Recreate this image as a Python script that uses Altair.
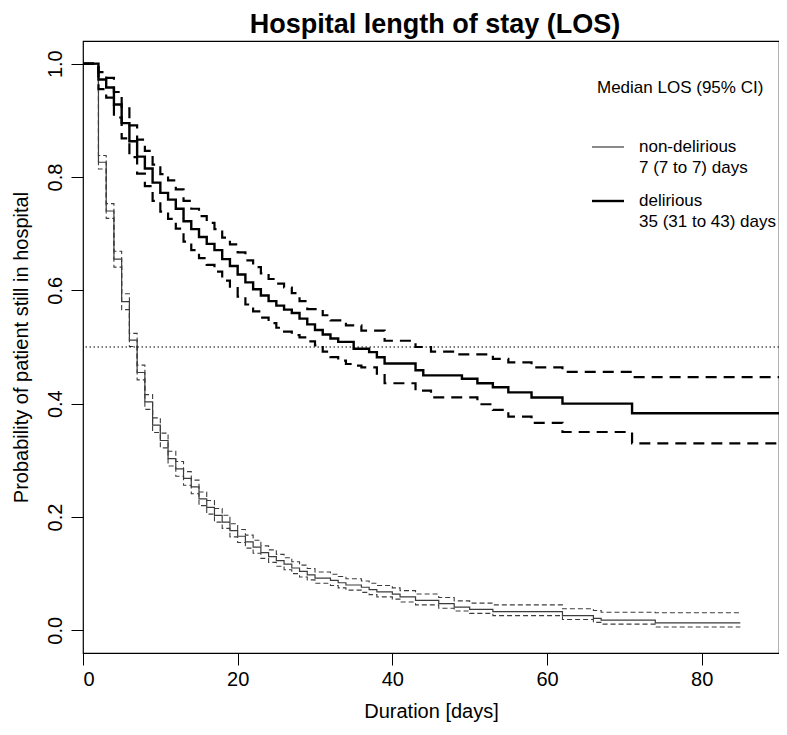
import altair as alt
import pandas as pd

# Kaplan-Meier steps: day of step and survival after it
nd_days = [0, 2, 3, 4, 5, 6, 7, 8, 9, 10, 11, 12, 13, 14, 15, 16, 17, 18, 19, 20,
           21, 22, 23, 24, 25, 26, 27, 28, 29, 30, 32, 33, 34, 36, 37, 38, 40, 41,
           43, 46, 48, 50, 53, 62, 66, 67, 74, 85]
nd_surv = [1.0, 0.826, 0.740, 0.655, 0.580, 0.512, 0.455, 0.403, 0.362, 0.335,
           0.303, 0.285, 0.268, 0.253, 0.232, 0.217, 0.203, 0.191, 0.176, 0.166,
           0.156, 0.147, 0.137, 0.130, 0.123, 0.117, 0.110, 0.104, 0.098, 0.092,
           0.088, 0.084, 0.080, 0.076, 0.072, 0.068, 0.064, 0.059, 0.053, 0.047,
           0.041, 0.037, 0.033, 0.026, 0.021, 0.018, 0.013, 0.013]
nd_upper = [1.0, 0.838, 0.753, 0.669, 0.594, 0.524, 0.468, 0.416, 0.375, 0.348,
            0.316, 0.298, 0.280, 0.265, 0.244, 0.229, 0.215, 0.203, 0.188, 0.178,
            0.168, 0.159, 0.149, 0.142, 0.134, 0.128, 0.121, 0.115, 0.109, 0.103,
            0.099, 0.095, 0.091, 0.087, 0.083, 0.079, 0.075, 0.070, 0.064, 0.058,
            0.052, 0.048, 0.045, 0.038, 0.035, 0.032, 0.031, 0.031]
nd_lower = [1.0, 0.814, 0.727, 0.641, 0.566, 0.501, 0.442, 0.390, 0.349, 0.322,
            0.290, 0.272, 0.256, 0.241, 0.220, 0.205, 0.191, 0.180, 0.165, 0.155,
            0.145, 0.136, 0.127, 0.120, 0.113, 0.107, 0.100, 0.094, 0.089, 0.083,
            0.079, 0.075, 0.071, 0.067, 0.063, 0.059, 0.055, 0.050, 0.045, 0.039,
            0.034, 0.030, 0.026, 0.019, 0.014, 0.011, 0.006, 0.006]

del_days = [0, 2, 3, 4, 5, 6, 7, 8, 9, 10, 11, 12, 13, 14, 15, 16, 17, 18, 19, 20,
            21, 22, 23, 24, 25, 26, 27, 28, 29, 30, 31, 32, 33, 34, 35, 36, 37, 38,
            39, 43, 44, 45, 48, 49, 51, 53, 55, 58, 62, 71, 90]
del_surv = [1.0, 0.972, 0.958, 0.928, 0.895, 0.863, 0.836, 0.815, 0.790, 0.772,
            0.760, 0.744, 0.722, 0.708, 0.694, 0.682, 0.671, 0.655, 0.643, 0.628,
            0.614, 0.602, 0.591, 0.581, 0.573, 0.566, 0.560, 0.550, 0.540, 0.530,
            0.522, 0.515, 0.509, 0.509, 0.497, 0.497, 0.491, 0.482, 0.471, 0.459,
            0.450, 0.450, 0.450, 0.444, 0.436, 0.429, 0.420, 0.411, 0.400, 0.383,
            0.383]
del_upper = [1.0, 0.985, 0.975, 0.950, 0.921, 0.891, 0.866, 0.846, 0.822, 0.805,
             0.794, 0.778, 0.758, 0.744, 0.731, 0.719, 0.708, 0.693, 0.681, 0.667,
             0.653, 0.641, 0.630, 0.620, 0.612, 0.605, 0.595, 0.581, 0.567, 0.567,
             0.556, 0.547, 0.547, 0.538, 0.538, 0.529, 0.529, 0.529, 0.511, 0.500,
             0.500, 0.492, 0.487, 0.487, 0.487, 0.479, 0.473, 0.464, 0.456, 0.447,
             0.447]
del_lower = [1.0, 0.955, 0.940, 0.905, 0.868, 0.835, 0.806, 0.784, 0.758, 0.739,
             0.726, 0.709, 0.686, 0.671, 0.657, 0.645, 0.633, 0.617, 0.604, 0.589,
             0.575, 0.563, 0.552, 0.542, 0.534, 0.527, 0.521, 0.517, 0.510, 0.503,
             0.492, 0.482, 0.476, 0.470, 0.467, 0.464, 0.464, 0.453, 0.436, 0.423,
             0.423, 0.411, 0.411, 0.411, 0.399, 0.389, 0.377, 0.366, 0.350, 0.330,
             0.330]

x_ticks = [0, 20, 40, 60, 80]
y_ticks = [0.0, 0.2, 0.4, 0.6, 0.8, 1.0]
median_level = 0.5

FONT = "Liberation Sans"
W, H = 696, 612

x_enc = alt.X(
    "day:Q",
    scale=alt.Scale(domain=[0, 90], nice=False, zero=False),
    axis=alt.Axis(values=x_ticks, title="Duration [days]", grid=False, domain=False,
                  tickSize=12, tickColor="black", labelPadding=4, format="d",
                  labelFont=FONT, labelFontSize=20, labelColor="black",
                  titleFont=FONT, titleFontSize=20, titleFontWeight="normal",
                  titleColor="black", titlePadding=12),
)
y_enc = alt.Y(
    "p:Q",
    scale=alt.Scale(domain=[-0.04, 1.04], nice=False, zero=False),
    axis=alt.Axis(values=y_ticks, title="Probability of patient still in hospital",
                  grid=False, domain=False, tickSize=12, tickColor="black",
                  labelPadding=10, labelAngle=-90, labelAlign="center",
                  labelBaseline="alphabetic", format=".1f",
                  labelFont=FONT, labelFontSize=20, labelColor="black",
                  titleFont=FONT, titleFontSize=20, titleFontWeight="normal",
                  titleColor="black", titlePadding=14),
)


def km_line(days, values, width, color, dash=None):
    style = dict(interpolate="step-after", color=color, strokeWidth=width, clip=True)
    if dash:
        style["strokeDash"] = dash
    df = pd.DataFrame({"day": days, "p": values})
    return alt.Chart(df).mark_line(**style).encode(x=x_enc, y=y_enc)


nd_col = "#3c3c3c"
layers = [
    km_line(nd_days, nd_upper, 1.1, nd_col, [5, 3]),
    km_line(nd_days, nd_lower, 1.1, nd_col, [5, 3]),
    km_line(nd_days, nd_surv, 1.2, nd_col),
    km_line(del_days, del_upper, 2.2, "black", [11, 7]),
    km_line(del_days, del_lower, 2.2, "black", [11, 7]),
    km_line(del_days, del_surv, 2.4, "black"),
]

median_rule = (
    alt.Chart(pd.DataFrame({"p": [median_level]}))
    .mark_rule(color="black", strokeWidth=1, strokeDash=[1.5, 2.5])
    .encode(y=y_enc)
)

one = pd.DataFrame({"k": [0]})
title_text = alt.Chart(one).mark_text(
    text="Hospital length of stay (LOS)", font=FONT, fontSize=27, fontWeight="bold",
    align="center", baseline="alphabetic", color="black",
).encode(x=alt.value(352), y=alt.value(-8))
legend_head = alt.Chart(one).mark_text(
    text="Median LOS (95% CI)", font=FONT, fontSize=17, align="left", baseline="middle"
).encode(x=alt.value(514), y=alt.value(47))
legend_nd_line = alt.Chart(one).mark_rule(color=nd_col, strokeWidth=1.2).encode(
    x=alt.value(509), x2=alt.value(541), y=alt.value(106)
)
legend_nd_text = alt.Chart(one).mark_text(
    text=["non-delirious", "7 (7 to 7) days"], font=FONT, fontSize=17,
    align="left", baseline="middle", lineHeight=21,
).encode(x=alt.value(556), y=alt.value(106))
legend_del_line = alt.Chart(one).mark_rule(color="black", strokeWidth=2.4).encode(
    x=alt.value(509), x2=alt.value(541), y=alt.value(160)
)
legend_del_text = alt.Chart(one).mark_text(
    text=["delirious", "35 (31 to 43) days"], font=FONT, fontSize=17,
    align="left", baseline="middle", lineHeight=21,
).encode(x=alt.value(556), y=alt.value(160))

chart = (
    alt.layer(*layers, median_rule, title_text, legend_head, legend_nd_line,
              legend_nd_text, legend_del_line, legend_del_text)
    .properties(
        width=W,
        height=H,
        autosize=alt.AutoSizeParams(type="none"),
        padding={"left": 75, "top": 33, "right": 0, "bottom": 70},
        background="white",
    )
    .configure_view(stroke="black", strokeWidth=1.2)
)

chart.save("out.html", embed_options={"renderer": "svg", "actions": False})
